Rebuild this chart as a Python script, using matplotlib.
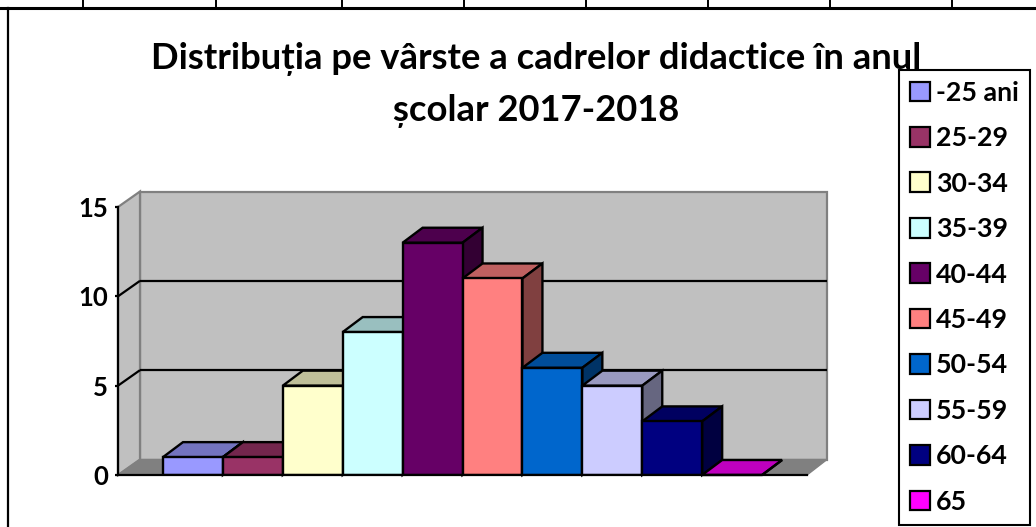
import matplotlib
matplotlib.use("Agg")
import matplotlib.pyplot as plt
from matplotlib.colors import to_rgb
from matplotlib.lines import Line2D
from matplotlib.patches import Patch, Polygon

plt.rcParams["font.family"] = ["Lato", "DejaVu Sans"]
plt.rcParams["font.weight"] = "bold"

# -------- DATA --------
categories = ["-25 ani", "25-29", "30-34", "35-39", "40-44",
              "45-49", "50-54", "55-59", "60-64", "65"]
values = [1, 1, 5, 8, 13, 11, 6, 5, 3, 0]
colors = ["#9999FF", "#993366", "#FFFFCC", "#CCFFFF", "#660066",
          "#FF8080", "#0066CC", "#CCCCFF", "#000080", "#FF00FF"]
y_ticks = [0, 5, 10, 15]
title = "Distribuția pe vârste a cadrelor didactice în anul\nșcolar 2017-2018"

W, H = 1036, 527


def shade(color, f):
    return tuple(c * f for c in to_rgb(color))


fig = plt.figure(figsize=(W / 100, H / 100), dpi=100)
fig.patch.set_facecolor("white")

# front plane of the fake 3d box, in pixels
left, right, top, bottom = 118, 807, 207, 475
ax = fig.add_axes([left / W, 1 - bottom / H, (right - left) / W, (bottom - top) / H])
ax.patch.set_visible(False)
ax.set_xlim(-0.751, 10.75)
ax.set_ylim(0, 15)

# depth in data units
px_x = (10.75 + 0.751) / (right - left)
px_y = 15 / (bottom - top)
wall_dl, wall_dr, wall_dy = 22 * px_x, 20 * px_x, 15.5 * px_y
bar_dx, bar_dy = 20 * px_x, 15 * px_y
x0, x1 = ax.get_xlim()
y1 = ax.get_ylim()[1]


def face(points, fc, ec, lw, z):
    ax.add_patch(Polygon(points, closed=True, facecolor=fc, edgecolor=ec,
                         linewidth=lw, zorder=z, clip_on=False, joinstyle="miter"))


# -------- WALLS --------
face([(x0 + wall_dl, wall_dy), (x1 + wall_dr, wall_dy),
      (x1 + wall_dr, y1 + wall_dy), (x0 + wall_dl, y1 + wall_dy)], "#C0C0C0", "#808080", 1.6, 1)
face([(x0, 0), (x0 + wall_dl, wall_dy), (x0 + wall_dl, y1 + wall_dy), (x0, y1)],
     "#C0C0C0", "#808080", 1.6, 1)
face([(x0, 0), (x1, 0), (x1 + wall_dr, wall_dy), (x0 + wall_dl, wall_dy)],
     "#808080", "#808080", 1, 1)

# GRID
for t in y_ticks[1:-1]:
    ax.plot([x0 + wall_dl, x1 + wall_dr], [t + wall_dy, t + wall_dy],
            color="black", linewidth=1.6, zorder=2, solid_capstyle="butt", clip_on=False)
    ax.plot([x0, x0 + wall_dl], [t, t + wall_dy], color="black", linewidth=1.6, zorder=2,
            solid_capstyle="butt", clip_on=False)

# -------- BARS --------
for i, (v, c) in enumerate(zip(values, colors)):
    z = 3 + i
    a, b = i, i + 1
    ax.bar(a, v, width=1, align="edge", color=c, edgecolor="black", linewidth=1.7, zorder=z + 0.2)
    face([(a, v), (b, v), (b + bar_dx, v + bar_dy), (a + bar_dx, v + bar_dy)],
         shade(c, 0.75), "black", 1.7, z)
    face([(b, 0), (b + bar_dx, bar_dy), (b + bar_dx, v + bar_dy), (b, v)],
         shade(c, 0.5), "black", 1.7, z)

# -------- AXES --------
ax.set_xticks([])
ax.set_yticks(y_ticks)
ax.tick_params(axis="y", length=2.5, width=1.6, labelsize=18.5, pad=4.5)
for s in ["top", "right"]:
    ax.spines[s].set_visible(False)
for s in ["left", "bottom"]:
    ax.spines[s].set_linewidth(1.6)
    ax.spines[s].set_zorder(20)

# -------- TITLE --------
ax.text(536 / W, 1 - 85 / H, title, transform=fig.transFigure, ha="center", va="center",
        fontsize=26.2, fontweight="bold", linespacing=1.65, zorder=21)

# -------- LEGEND --------
handles = [Patch(facecolor=c, edgecolor="black", linewidth=1.6) for c in colors]
leg = ax.legend(handles, categories, loc="upper left",
                bbox_to_anchor=(899 / W, 1 - 69.5 / H), bbox_transform=fig.transFigure,
                fontsize=19.3, frameon=True, fancybox=False, framealpha=1, edgecolor="black",
                handlelength=0.75, handleheight=0.75, handletextpad=0.2,
                labelspacing=0.80, borderpad=0.42, borderaxespad=0)
leg.get_frame().set_linewidth(1.5)
leg.set_zorder(30)

# -------- PAGE TABLE LINES --------
for xs, ys, lw in [([0, W], [8, 8], 2.2), ([8, 8], [8, H], 1.6)]:
    fig.add_artist(Line2D([x / W for x in xs], [1 - y / H for y in ys], color="black", linewidth=lw))
for x in [83, 216, 342, 464, 586, 708, 830, 952]:
    fig.add_artist(Line2D([x / W, x / W], [1 - 8 / H, 1], color="black", linewidth=1.4))

plt.savefig("out.png", dpi=100)
